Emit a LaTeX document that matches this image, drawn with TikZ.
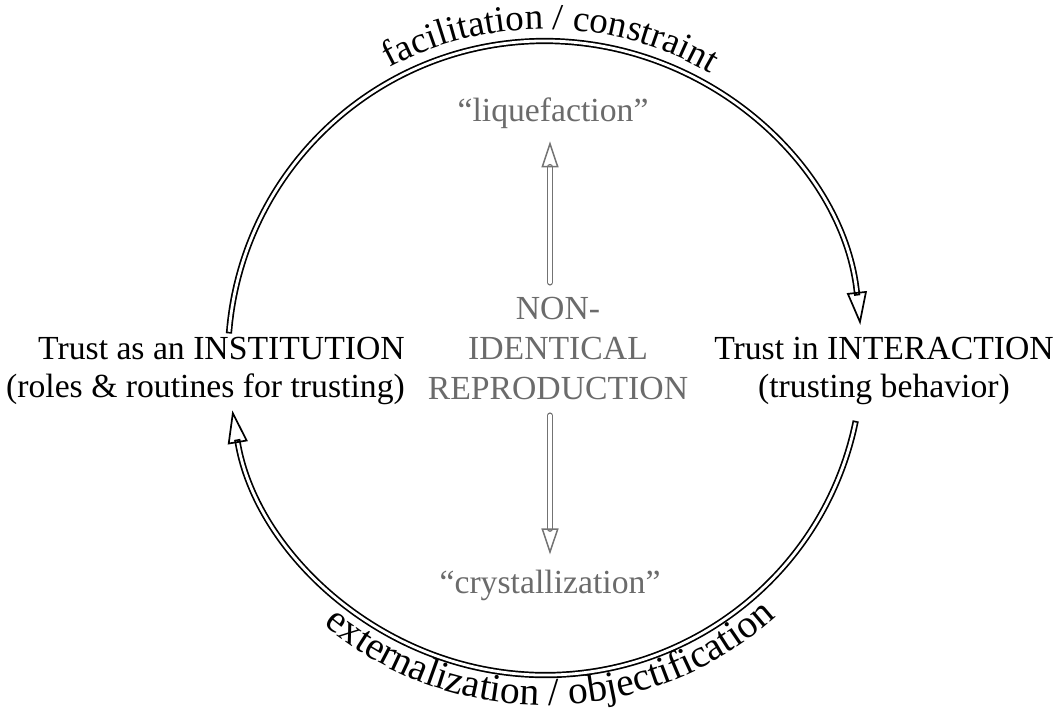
\documentclass[tikz,border=0pt]{standalone}
\usepackage{fontspec}
\setmainfont{Liberation Serif}
\usetikzlibrary{arrows.meta,decorations.text}

\definecolor{txtgray}{gray}{0.42}
\definecolor{arrgray}{gray}{0.45}

\newcommand{\mainfont}{\fontsize{33.7}{38}\selectfont}
\newcommand{\corefont}{\fontsize{33.7}{40}\selectfont}
\newcommand{\topfont}{\fontsize{37}{40}\selectfont}
\newcommand{\botfont}{\fontsize{39.5}{44}\selectfont}

\tikzset{
    cyclearrow/.style={double, double distance=2.8pt, line width=1.7pt, line cap=rect,
        -{Triangle[open, length=33pt, width=20pt, line width=1.7pt]}},
    grayarrow/.style={arrgray, double, double distance=3.2pt, line width=1.5pt, line cap=round,
        -{Triangle[open, length=26pt, width=17pt, line width=1.5pt]}},
    label/.style={inner sep=0pt, font=\mainfont},
    graylabel/.style={inner sep=0pt, text=txtgray, font=\corefont}
}

\begin{document}
\begin{tikzpicture}[x=1pt, y=1pt]
    \useasboundingbox (0,0) rectangle (1059,713);

    % the two sides of the cycle
    \node[label, anchor=east, align=right] (inst) at (405,342)
        {Trust as an INSTITUTION\\(roles \& routines for trusting)};
    \node[label, align=center] (inter) at (884,342)
        {Trust in INTERACTION\\(trusting behavior)};

    % centre text (gray)
    \coordinate (axis) at (550,355);
    \node[graylabel, align=center] (core) at (558,364) {NON-\\IDENTICAL\\REPRODUCTION};
    \node[graylabel, anchor=base] (liq) at (553,591) {“liquefaction”};
    \node[graylabel, anchor=base] (crys) at (550,120) {“crystallization”};

    % up / down arrows
    \draw[grayarrow, shorten <=15pt, shorten >=12pt] (core.north -| axis) -- (liq.south -| axis);
    \draw[grayarrow, shorten <=15pt, shorten >=15pt] (core.south -| axis) -- (crys.north -| axis);

    \begin{scope}[shift={(545,355)}]
        % upper arc: institution -> interaction
        \draw[cyclearrow] (175:317) arc[start angle=175, end angle=6, radius=317];
        % lower arc: interaction -> institution
        \draw[cyclearrow] (-12:317) arc[start angle=-12, end angle=-170.5, radius=317];

        % labels along the arcs
        \path[decorate, decoration={text along path, text align=center,
            text={|\topfont|facilitation / constraint}}]
            (179:329) arc[start angle=179, end angle=-1, radius=329];
        \path[decorate, decoration={text along path, text align=center,
            text={|\botfont|externalization / objectification}}]
            (181:347) arc[start angle=181, end angle=361, radius=347];
    \end{scope}
\end{tikzpicture}
\end{document}
